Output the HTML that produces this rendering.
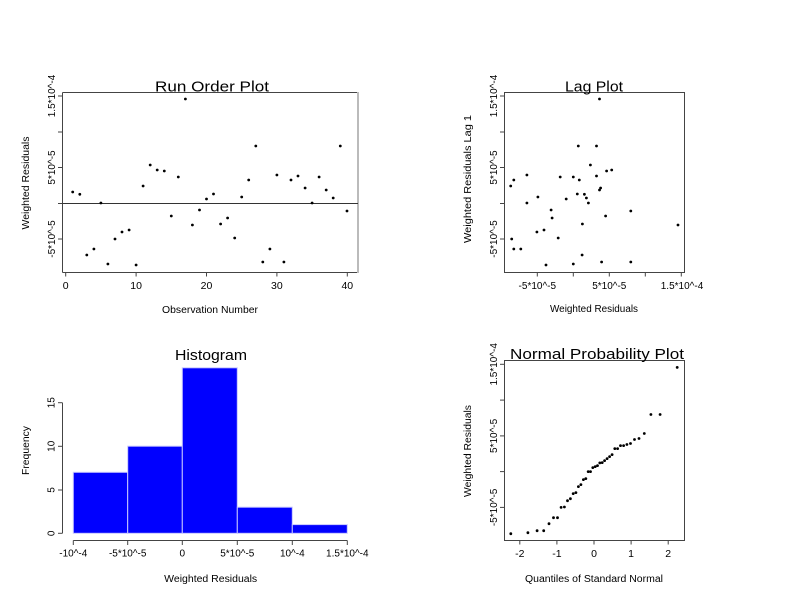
<!DOCTYPE html>
<html>
<head>
<meta charset="utf-8">
<style>
  html, body { margin: 0; padding: 0; background: #fff; }
  svg { display: block; }
  text { font-family: "Liberation Sans", Arial, sans-serif; fill: #000; }
</style>
</head>
<body>
<svg width="792" height="612" viewBox="0 0 792 612" xmlns="http://www.w3.org/2000/svg">
<rect x="0" y="0" width="792" height="612" fill="#fff"/>

<!-- ============ RUN ORDER PLOT ============ -->
<g stroke="#444" stroke-width="1" fill="none">
  <line x1="62.5" y1="92.5" x2="358" y2="92.5"/>
  <line x1="62.5" y1="92.5" x2="62.5" y2="272.5"/>
  <line x1="62.5" y1="272.5" x2="358" y2="272.5"/>
</g>
<line x1="358" y1="92" x2="358" y2="273" stroke="#bbb" stroke-width="2"/>
<line x1="62.5" y1="203.5" x2="358" y2="203.5" stroke="#333" stroke-width="1"/>
<!-- y ticks -->
<g stroke="#444" stroke-width="1">
  <line x1="58" y1="96" x2="62.5" y2="96"/>
  <line x1="58" y1="132" x2="62.5" y2="132"/>
  <line x1="58" y1="167.5" x2="62.5" y2="167.5"/>
  <line x1="58" y1="203.5" x2="62.5" y2="203.5"/>
  <line x1="58" y1="239" x2="62.5" y2="239"/>
</g>
<!-- x ticks -->
<g stroke="#444" stroke-width="1">
  <line x1="65.7" y1="272.5" x2="65.7" y2="276.5"/>
  <line x1="136.1" y1="272.5" x2="136.1" y2="276.5"/>
  <line x1="206.5" y1="272.5" x2="206.5" y2="276.5"/>
  <line x1="276.9" y1="272.5" x2="276.9" y2="276.5"/>
  <line x1="347.3" y1="272.5" x2="347.3" y2="276.5"/>
</g>
<g font-size="10.5" text-anchor="middle">
  <text x="65.7" y="289">0</text>
  <text x="136.1" y="289">10</text>
  <text x="206.5" y="289">20</text>
  <text x="276.9" y="289">30</text>
  <text x="347.3" y="289">40</text>
</g>
<g font-size="10" text-anchor="middle">
  <text transform="translate(55,96) rotate(-90)">1.5*10^-4</text>
  <text transform="translate(55,167.5) rotate(-90)">5*10^-5</text>
  <text transform="translate(55,239) rotate(-90)">-5*10^-5</text>
</g>
<text x="212" y="91.5" font-size="15" text-anchor="middle" textLength="114" lengthAdjust="spacingAndGlyphs">Run Order Plot</text>
<text x="210" y="313" font-size="10" text-anchor="middle" textLength="96" lengthAdjust="spacingAndGlyphs">Observation Number</text>
<text transform="translate(29,183) rotate(-90)" font-size="10" text-anchor="middle" textLength="93" lengthAdjust="spacingAndGlyphs">Weighted Residuals</text>
<g fill="#000">
  <circle cx="72.7" cy="192" r="1.4"/>
  <circle cx="79.8" cy="194.3" r="1.4"/>
  <circle cx="86.8" cy="255" r="1.4"/>
  <circle cx="93.9" cy="249" r="1.4"/>
  <circle cx="100.9" cy="203" r="1.4"/>
  <circle cx="107.9" cy="264" r="1.4"/>
  <circle cx="115.0" cy="239" r="1.4"/>
  <circle cx="122.0" cy="232" r="1.4"/>
  <circle cx="129.1" cy="230" r="1.4"/>
  <circle cx="136.1" cy="265" r="1.4"/>
  <circle cx="143.1" cy="186" r="1.4"/>
  <circle cx="150.2" cy="165" r="1.4"/>
  <circle cx="157.2" cy="170" r="1.4"/>
  <circle cx="164.3" cy="171" r="1.4"/>
  <circle cx="171.3" cy="216" r="1.4"/>
  <circle cx="178.3" cy="177" r="1.4"/>
  <circle cx="185.4" cy="99" r="1.4"/>
  <circle cx="192.4" cy="225" r="1.4"/>
  <circle cx="199.5" cy="210" r="1.4"/>
  <circle cx="206.5" cy="199" r="1.4"/>
  <circle cx="213.5" cy="194" r="1.4"/>
  <circle cx="220.6" cy="224" r="1.4"/>
  <circle cx="227.6" cy="218" r="1.4"/>
  <circle cx="234.7" cy="238" r="1.4"/>
  <circle cx="241.7" cy="197" r="1.4"/>
  <circle cx="248.7" cy="180" r="1.4"/>
  <circle cx="255.8" cy="146" r="1.4"/>
  <circle cx="262.8" cy="262" r="1.4"/>
  <circle cx="269.9" cy="249" r="1.4"/>
  <circle cx="276.9" cy="175" r="1.4"/>
  <circle cx="283.9" cy="262" r="1.4"/>
  <circle cx="291.0" cy="180" r="1.4"/>
  <circle cx="298.0" cy="176" r="1.4"/>
  <circle cx="305.1" cy="188" r="1.4"/>
  <circle cx="312.1" cy="203" r="1.4"/>
  <circle cx="319.1" cy="177" r="1.4"/>
  <circle cx="326.2" cy="190" r="1.4"/>
  <circle cx="333.2" cy="198" r="1.4"/>
  <circle cx="340.3" cy="146" r="1.4"/>
  <circle cx="347.0" cy="211" r="1.4"/>
</g>

<!-- ============ LAG PLOT ============ -->
<rect x="504.5" y="92.5" width="180" height="180" fill="none" stroke="#444" stroke-width="1"/>
<g stroke="#444" stroke-width="1">
  <line x1="500" y1="96" x2="504.5" y2="96"/>
  <line x1="500" y1="132" x2="504.5" y2="132"/>
  <line x1="500" y1="167.5" x2="504.5" y2="167.5"/>
  <line x1="500" y1="203.5" x2="504.5" y2="203.5"/>
  <line x1="500" y1="239" x2="504.5" y2="239"/>
  <line x1="537.3" y1="272.5" x2="537.3" y2="276.5"/>
  <line x1="573.3" y1="272.5" x2="573.3" y2="276.5"/>
  <line x1="609.3" y1="272.5" x2="609.3" y2="276.5"/>
  <line x1="645.3" y1="272.5" x2="645.3" y2="276.5"/>
  <line x1="681.3" y1="272.5" x2="681.3" y2="276.5"/>
</g>
<g font-size="10" text-anchor="middle">
  <text x="537.3" y="289">-5*10^-5</text>
  <text x="609.3" y="289">5*10^-5</text>
  <text x="682" y="289">1.5*10^-4</text>
  <text transform="translate(497,96) rotate(-90)">1.5*10^-4</text>
  <text transform="translate(497,167.5) rotate(-90)">5*10^-5</text>
  <text transform="translate(497,239) rotate(-90)">-5*10^-5</text>
</g>
<text x="594" y="91.5" font-size="15" text-anchor="middle" textLength="58" lengthAdjust="spacingAndGlyphs">Lag Plot</text>
<text x="594" y="312" font-size="10" text-anchor="middle" textLength="88" lengthAdjust="spacingAndGlyphs">Weighted Residuals</text>
<text transform="translate(471,179) rotate(-90)" font-size="10" text-anchor="middle" textLength="128" lengthAdjust="spacingAndGlyphs">Weighted Residuals Lag 1</text>
<g fill="#000">
  <circle cx="584.4" cy="194.3" r="1.4"/>
  <circle cx="582.1" cy="255" r="1.4"/>
  <circle cx="520.8" cy="249" r="1.4"/>
  <circle cx="526.9" cy="203" r="1.4"/>
  <circle cx="573.3" cy="264" r="1.4"/>
  <circle cx="511.7" cy="239" r="1.4"/>
  <circle cx="536.9" cy="232" r="1.4"/>
  <circle cx="544.0" cy="230" r="1.4"/>
  <circle cx="546.0" cy="265" r="1.4"/>
  <circle cx="510.7" cy="186" r="1.4"/>
  <circle cx="590.4" cy="165" r="1.4"/>
  <circle cx="611.7" cy="170" r="1.4"/>
  <circle cx="606.6" cy="171" r="1.4"/>
  <circle cx="605.6" cy="216" r="1.4"/>
  <circle cx="560.2" cy="177" r="1.4"/>
  <circle cx="599.5" cy="99" r="1.4"/>
  <circle cx="678.0" cy="225" r="1.4"/>
  <circle cx="551.1" cy="210" r="1.4"/>
  <circle cx="566.2" cy="199" r="1.4"/>
  <circle cx="577.3" cy="194" r="1.4"/>
  <circle cx="582.4" cy="224" r="1.4"/>
  <circle cx="552.1" cy="218" r="1.4"/>
  <circle cx="558.2" cy="238" r="1.4"/>
  <circle cx="537.9" cy="197" r="1.4"/>
  <circle cx="579.3" cy="180" r="1.4"/>
  <circle cx="596.5" cy="146" r="1.4"/>
  <circle cx="630.8" cy="262" r="1.4"/>
  <circle cx="513.8" cy="249" r="1.4"/>
  <circle cx="526.9" cy="175" r="1.4"/>
  <circle cx="601.6" cy="262" r="1.4"/>
  <circle cx="513.8" cy="180" r="1.4"/>
  <circle cx="596.5" cy="176" r="1.4"/>
  <circle cx="600.6" cy="188" r="1.4"/>
  <circle cx="588.4" cy="203" r="1.4"/>
  <circle cx="573.3" cy="177" r="1.4"/>
  <circle cx="599.5" cy="190" r="1.4"/>
  <circle cx="586.4" cy="198" r="1.4"/>
  <circle cx="578.3" cy="146" r="1.4"/>
  <circle cx="630.8" cy="211" r="1.4"/>
</g>

<!-- ============ HISTOGRAM ============ -->
<g fill="#0000ff" stroke="#c8c8ff" stroke-width="1">
  <rect x="73.3" y="472.3" width="54.4" height="61"/>
  <rect x="127.7" y="446.2" width="54.6" height="87.1"/>
  <rect x="182.3" y="367.8" width="55" height="165.5"/>
  <rect x="237.3" y="507.2" width="55" height="26.1"/>
  <rect x="292.3" y="524.6" width="55" height="8.7"/>
</g>
<g stroke="#444" stroke-width="1">
  <line x1="73.3" y1="540.5" x2="347.3" y2="540.5"/>
  <line x1="73.3" y1="540.5" x2="73.3" y2="545"/>
  <line x1="127.7" y1="540.5" x2="127.7" y2="545"/>
  <line x1="182.3" y1="540.5" x2="182.3" y2="545"/>
  <line x1="237.3" y1="540.5" x2="237.3" y2="545"/>
  <line x1="292.3" y1="540.5" x2="292.3" y2="545"/>
  <line x1="347.3" y1="540.5" x2="347.3" y2="545"/>
  <line x1="62.5" y1="402.7" x2="62.5" y2="533.3"/>
  <line x1="58" y1="533.3" x2="62.5" y2="533.3"/>
  <line x1="58" y1="490" x2="62.5" y2="490"/>
  <line x1="58" y1="446.3" x2="62.5" y2="446.3"/>
  <line x1="58" y1="402.7" x2="62.5" y2="402.7"/>
</g>
<g font-size="10" text-anchor="middle">
  <text x="73.3" y="556.5">-10^-4</text>
  <text x="127.7" y="556.5">-5*10^-5</text>
  <text x="182.3" y="556.5">0</text>
  <text x="237.3" y="556.5">5*10^-5</text>
  <text x="292.3" y="556.5">10^-4</text>
  <text x="347.3" y="556.5">1.5*10^-4</text>
  <text transform="translate(54.5,533.3) rotate(-90)">0</text>
  <text transform="translate(54.5,490) rotate(-90)">5</text>
  <text transform="translate(54.5,446.3) rotate(-90)">10</text>
  <text transform="translate(54.5,402.7) rotate(-90)">15</text>
</g>
<text x="211" y="360" font-size="15" text-anchor="middle" textLength="72" lengthAdjust="spacingAndGlyphs">Histogram</text>
<text x="210.7" y="582" font-size="10" text-anchor="middle" textLength="93" lengthAdjust="spacingAndGlyphs">Weighted Residuals</text>
<text transform="translate(29,450.5) rotate(-90)" font-size="10" text-anchor="middle" textLength="49" lengthAdjust="spacingAndGlyphs">Frequency</text>

<!-- ============ NORMAL PROBABILITY PLOT ============ -->
<rect x="504.5" y="360.5" width="180" height="180" fill="none" stroke="#444" stroke-width="1"/>
<g stroke="#444" stroke-width="1">
  <line x1="500" y1="364.3" x2="504.5" y2="364.3"/>
  <line x1="500" y1="400.1" x2="504.5" y2="400.1"/>
  <line x1="500" y1="435.9" x2="504.5" y2="435.9"/>
  <line x1="500" y1="471.6" x2="504.5" y2="471.6"/>
  <line x1="500" y1="507.4" x2="504.5" y2="507.4"/>
  <line x1="519.8" y1="540.5" x2="519.8" y2="544.5"/>
  <line x1="556.9" y1="540.5" x2="556.9" y2="544.5"/>
  <line x1="594" y1="540.5" x2="594" y2="544.5"/>
  <line x1="631.1" y1="540.5" x2="631.1" y2="544.5"/>
  <line x1="668.2" y1="540.5" x2="668.2" y2="544.5"/>
</g>
<g font-size="10.5" text-anchor="middle">
  <text x="519.8" y="557">-2</text>
  <text x="556.9" y="557">-1</text>
  <text x="594" y="557">0</text>
  <text x="631.1" y="557">1</text>
  <text x="668.2" y="557">2</text>
</g>
<g font-size="10" text-anchor="middle">
  <text transform="translate(497,364.3) rotate(-90)">1.5*10^-4</text>
  <text transform="translate(497,435.9) rotate(-90)">5*10^-5</text>
  <text transform="translate(497,507.4) rotate(-90)">-5*10^-5</text>
</g>
<text x="597" y="359" font-size="15" text-anchor="middle" textLength="174" lengthAdjust="spacingAndGlyphs">Normal Probability Plot</text>
<text x="594" y="582" font-size="10" text-anchor="middle" textLength="138" lengthAdjust="spacingAndGlyphs">Quantiles of Standard Normal</text>
<text transform="translate(471,451) rotate(-90)" font-size="10" text-anchor="middle" textLength="92" lengthAdjust="spacingAndGlyphs">Weighted Residuals</text>
<g fill="#000">
  <circle cx="510.8" cy="533.7" r="1.4"/>
  <circle cx="527.9" cy="532.7" r="1.4"/>
  <circle cx="537.1" cy="530.7" r="1.4"/>
  <circle cx="543.7" cy="530.7" r="1.4"/>
  <circle cx="549.0" cy="523.7" r="1.4"/>
  <circle cx="553.5" cy="517.7" r="1.4"/>
  <circle cx="557.5" cy="517.7" r="1.4"/>
  <circle cx="561.1" cy="507.4" r="1.4"/>
  <circle cx="564.4" cy="507.0" r="1.4"/>
  <circle cx="567.5" cy="500.7" r="1.4"/>
  <circle cx="570.4" cy="498.7" r="1.4"/>
  <circle cx="573.2" cy="493.6" r="1.4"/>
  <circle cx="575.9" cy="492.6" r="1.4"/>
  <circle cx="578.4" cy="486.6" r="1.4"/>
  <circle cx="580.9" cy="484.6" r="1.4"/>
  <circle cx="583.4" cy="479.6" r="1.4"/>
  <circle cx="585.8" cy="478.6" r="1.4"/>
  <circle cx="588.2" cy="471.6" r="1.4"/>
  <circle cx="590.5" cy="471.6" r="1.4"/>
  <circle cx="592.8" cy="467.6" r="1.4"/>
  <circle cx="595.2" cy="466.6" r="1.4"/>
  <circle cx="597.5" cy="465.6" r="1.4"/>
  <circle cx="599.8" cy="462.9" r="1.4"/>
  <circle cx="602.2" cy="462.6" r="1.4"/>
  <circle cx="604.6" cy="460.6" r="1.4"/>
  <circle cx="607.1" cy="458.6" r="1.4"/>
  <circle cx="609.6" cy="456.6" r="1.4"/>
  <circle cx="612.1" cy="454.6" r="1.4"/>
  <circle cx="614.8" cy="448.6" r="1.4"/>
  <circle cx="617.6" cy="448.6" r="1.4"/>
  <circle cx="620.5" cy="445.6" r="1.4"/>
  <circle cx="623.6" cy="445.6" r="1.4"/>
  <circle cx="626.9" cy="444.5" r="1.4"/>
  <circle cx="630.5" cy="443.5" r="1.4"/>
  <circle cx="634.5" cy="439.5" r="1.4"/>
  <circle cx="639.0" cy="438.5" r="1.4"/>
  <circle cx="644.3" cy="433.5" r="1.4"/>
  <circle cx="650.9" cy="414.5" r="1.4"/>
  <circle cx="660.1" cy="414.5" r="1.4"/>
  <circle cx="677.2" cy="367.4" r="1.4"/>
</g>
</svg>
</body>
</html>
